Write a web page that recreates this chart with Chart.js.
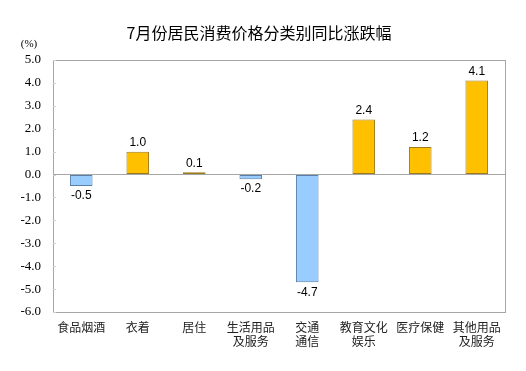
<!DOCTYPE html>
<html>
<head>
<meta charset="utf-8">
<script src="https://cdn.jsdelivr.net/npm/chart.js@4"></script>
<style>
  html, body { margin: 0; padding: 0; background: #fff; }
  #wrap { width: 526px; height: 371px; }
</style>
</head>
<body>
<div id="wrap"><canvas id="cpiChart"></canvas></div>
<script>
// datos
var categorias = [["食品烟酒"], ["衣着"], ["居住"], ["生活用品", "及服务"], ["交通", "通信"], ["教育文化", "娱乐"], ["医疗保健"], ["其他用品", "及服务"]];
var variacion = [-0.5, 1.0, 0.1, -0.2, -4.7, 2.4, 1.2, 4.1];
var titulo = "7月份居民消费价格分类别同比涨跌幅";
var unidad = "(%)";

var sans = "Liberation Sans, Noto Sans CJK SC, sans-serif";
var serif = "Liberation Serif, serif";

// título, unidad, marco y etiquetas de valores
var extras = {
    id: 'extras',
    beforeDatasetsDraw: function (chart) {
        var ctx = chart.ctx, a = chart.chartArea;
        ctx.save();
        ctx.strokeStyle = '#a6a6a6';
        ctx.lineWidth = 1;
        ctx.strokeRect(Math.round(a.left) + 0.5, Math.round(a.top) + 0.5,
            Math.round(a.right - a.left), Math.round(a.bottom - a.top));
        // marcas pequeñas del eje y, hacia dentro
        var y = chart.scales.y;
        ctx.strokeStyle = '#d0d0d0';
        y.ticks.forEach(function (t) {
            var py = Math.round(y.getPixelForValue(t.value)) + 0.5;
            ctx.beginPath();
            ctx.moveTo(a.left, py);
            ctx.lineTo(a.left + 3, py);
            ctx.stroke();
        });
        ctx.restore();
    },
    afterDatasetsDraw: function (chart) {
        var ctx = chart.ctx;
        ctx.save();
        ctx.fillStyle = '#000';
        ctx.textAlign = 'center';
        ctx.textBaseline = 'middle';
        ctx.font = "16px Noto Sans CJK SC, sans-serif";
        ctx.fillText(titulo, 259, 33);
        ctx.font = "11px " + serif;
        ctx.fillText(unidad, 29, 44);

        ctx.font = "12px " + sans;
        var meta = chart.getDatasetMeta(0);
        meta.data.forEach(function (bar, i) {
            var v = variacion[i];
            var y = v >= 0 ? bar.y - 9 : bar.y + 10;
            ctx.fillText(v.toFixed(1), bar.x, y);
        });
        ctx.restore();
    }
};

var ctx = document.getElementById('cpiChart').getContext('2d');
new Chart(ctx, {
    type: 'bar',
    data: {
        labels: categorias,
        datasets: [{
            data: variacion,
            backgroundColor: variacion.map(v => v >= 0 ? '#ffc000' : '#99ccff'),
            borderColor: variacion.map(v => v >= 0 ? '#9c7a1c' : '#5a7fa8'),
            borderWidth: 1,
            borderSkipped: false,
            categoryPercentage: 1,
            barPercentage: 0.4
        }]
    },
    options: {
        responsive: true,
        maintainAspectRatio: false,
        animation: false,
        layout: { padding: { left: 0, right: 21, top: 60, bottom: 0 } },
        plugins: {
            legend: { display: false },
            tooltip: { enabled: false }
        },
        scales: {
            x: {
                grid: { display: false, drawTicks: false },
                border: { display: false },
                ticks: {
                    color: '#222',
                    font: { size: 12, family: "Noto Sans CJK SC, sans-serif" },
                    padding: 8,
                    maxRotation: 0,
                    autoSkip: false
                },
                afterFit: function (s) { s.height = 59; }
            },
            y: {
                min: -6,
                max: 5,
                grid: {
                    drawTicks: false,
                    color: function (c) { return c.tick && c.tick.value === 0 ? '#a6a6a6' : 'rgba(0,0,0,0)'; }
                },
                border: { display: false },
                ticks: {
                    stepSize: 1,
                    color: '#000',
                    padding: 12,
                    font: { size: 13, family: serif },
                    callback: function (v) { return v.toFixed(1); }
                },
                afterFit: function (s) { s.width = 53; }
            }
        }
    },
    plugins: [extras]
});
</script>
</body>
</html>
